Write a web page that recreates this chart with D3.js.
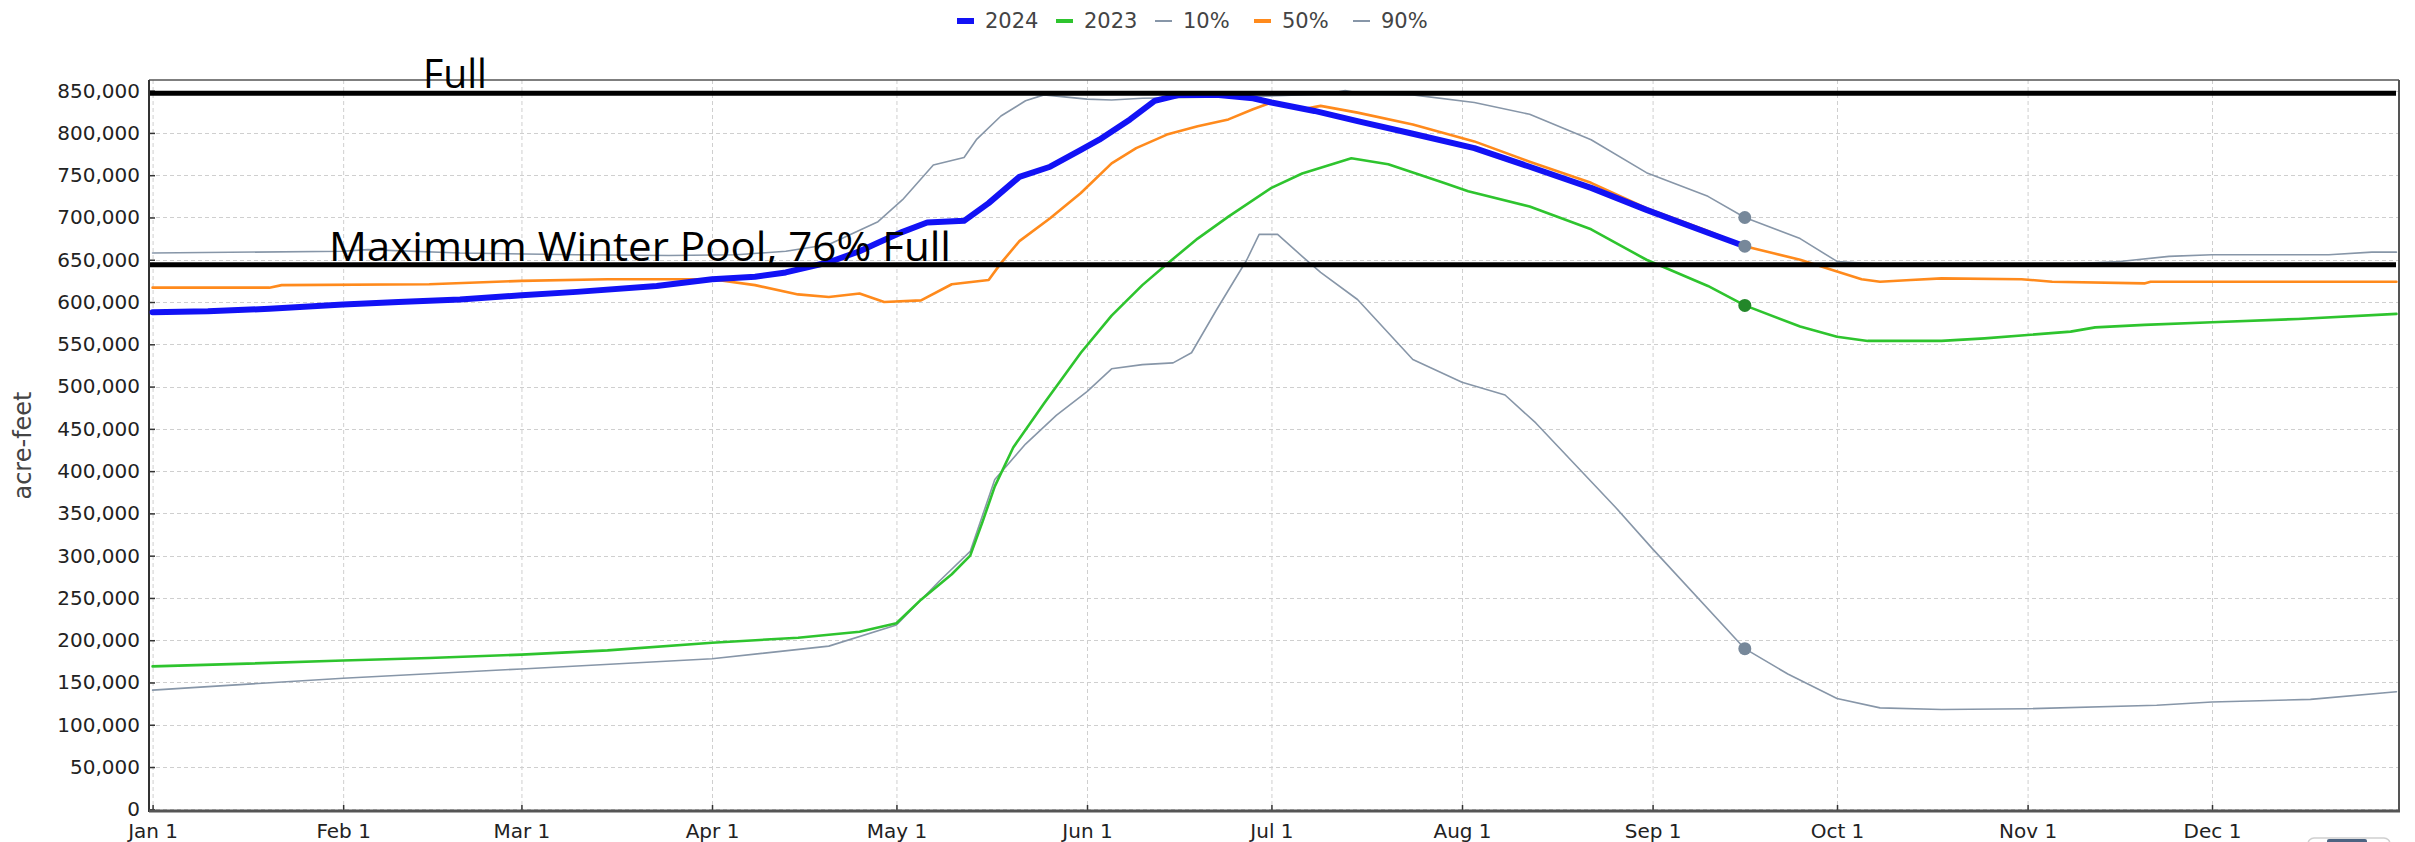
<!DOCTYPE html>
<html>
<head>
<meta charset="utf-8">
<script src="https://cdn.jsdelivr.net/npm/d3@7"></script>
<style>
  body { margin: 0; background: #fff; }
  svg { display: block; font-family: Verdana, "DejaVu Sans", sans-serif; }
</style>
</head>
<body>
<svg id="chart" width="2415" height="842"></svg>
<script>
// Reservoir storage (acre-feet), sampled as [month-day, value]
const storage2024 = [
  ["01-01", 588000], ["01-10", 589000], ["01-20", 592000], ["02-01", 597000],
  ["02-10", 600000], ["02-20", 603000], ["03-01", 608000], ["03-10", 612000],
  ["03-23", 619000], ["04-01", 627000], ["04-08", 630000], ["04-13", 635000],
  ["04-20", 647000], ["04-25", 660000], ["04-28", 670000], ["05-02", 683000],
  ["05-06", 694000], ["05-12", 696000], ["05-16", 717000], ["05-21", 748000],
  ["05-26", 760000], ["05-31", 780000], ["06-03", 792000], ["06-08", 816000],
  ["06-12", 838000], ["06-16", 845000], ["06-22", 845000], ["06-28", 841000],
  ["07-01", 836000], ["07-08", 826000], ["07-15", 814000], ["07-24", 799000],
  ["08-03", 782000], ["08-12", 760000], ["08-22", 735000], ["08-31", 709000],
  ["09-10", 682000], ["09-16", 666000]
];

const storage2023 = [
  ["01-01", 169000], ["01-15", 172000], ["02-01", 176000], ["02-15", 179000],
  ["03-01", 183000], ["03-15", 188000], ["04-01", 197000], ["04-15", 203000],
  ["04-25", 210000], ["05-01", 220000], ["05-05", 248000], ["05-10", 278000],
  ["05-13", 300000], ["05-15", 340000], ["05-17", 382000], ["05-20", 428000],
  ["05-25", 480000], ["05-31", 540000], ["06-05", 584000], ["06-10", 620000],
  ["06-14", 645000], ["06-19", 675000], ["06-24", 701000], ["07-01", 735000],
  ["07-06", 752000], ["07-14", 770000], ["07-20", 763000], ["07-29", 741000],
  ["08-02", 731000], ["08-12", 713000], ["08-22", 686000], ["08-31", 650000],
  ["09-10", 619000], ["09-16", 596000], ["09-25", 571000], ["10-01", 559000],
  ["10-06", 554000], ["10-18", 554000], ["10-25", 557000], ["11-01", 561000],
  ["11-08", 565000], ["11-12", 570000], ["11-20", 573000], ["12-01", 576000],
  ["12-15", 580000], ["12-31", 586000]
];

const pct10 = [
  ["01-01", 141000], ["02-01", 155000], ["03-01", 166000], ["04-01", 178000],
  ["04-20", 193000], ["05-01", 218000], ["05-08", 270000], ["05-13", 305000],
  ["05-17", 390000], ["05-22", 432000], ["05-27", 466000], ["06-01", 494000],
  ["06-05", 521000], ["06-10", 526000], ["06-15", 528000], ["06-18", 540000],
  ["06-22", 590000], ["06-27", 650000], ["06-29", 680000], ["07-02", 680000],
  ["07-06", 654000], ["07-09", 635000], ["07-15", 603000], ["07-24", 532000],
  ["08-01", 505000], ["08-08", 490000], ["08-13", 457000], ["08-26", 357000],
  ["09-01", 308000], ["09-16", 190000], ["09-23", 160000], ["10-01", 131000],
  ["10-08", 120000], ["10-18", 118000], ["11-01", 119000], ["11-22", 123000],
  ["12-01", 127000], ["12-17", 130000], ["12-31", 139000]
];

const pct50 = [
  ["01-01", 617000], ["01-20", 617000], ["01-22", 620000], ["02-15", 621000],
  ["03-01", 625000], ["03-15", 627000], ["04-01", 627000], ["04-08", 620000],
  ["04-15", 609000], ["04-20", 606000], ["04-25", 610000], ["04-29", 600000],
  ["05-05", 602000], ["05-10", 621000], ["05-16", 626000], ["05-18", 646000],
  ["05-21", 672000], ["05-26", 699000], ["05-31", 729000], ["06-05", 764000],
  ["06-09", 782000], ["06-14", 798000], ["06-19", 808000], ["06-24", 816000],
  ["06-28", 828000], ["07-01", 836000], ["07-06", 828000], ["07-09", 832000],
  ["07-15", 824000], ["07-24", 810000], ["08-03", 790000], ["08-12", 766000],
  ["08-22", 741000], ["08-31", 711000], ["09-10", 684000], ["09-16", 666000],
  ["09-25", 650000], ["10-01", 636000], ["10-05", 627000], ["10-08", 624000],
  ["10-13", 626000], ["10-18", 628000], ["10-31", 627000], ["11-05", 624000],
  ["11-20", 622000], ["11-21", 624000], ["12-31", 624000]
];

const pct90 = [
  ["01-01", 658000], ["02-01", 660000], ["02-05", 662000], ["02-20", 658000],
  ["03-10", 656000], ["03-25", 655000], ["04-05", 656000], ["04-13", 660000],
  ["04-20", 668000], ["04-28", 695000], ["05-02", 721000], ["05-07", 762000],
  ["05-12", 771000], ["05-14", 792000], ["05-18", 820000], ["05-22", 838000],
  ["05-25", 845000], ["06-01", 840000], ["06-05", 839000], ["06-10", 841000],
  ["06-28", 843000], ["07-10", 846000], ["07-13", 850000], ["07-16", 846000],
  ["07-24", 845000], ["08-03", 836000], ["08-12", 822000], ["08-22", 792000],
  ["08-31", 753000], ["09-10", 725000], ["09-16", 700000], ["09-25", 675000],
  ["10-01", 648000], ["10-10", 644000], ["11-05", 644000], ["11-16", 648000],
  ["11-24", 654000], ["12-01", 656000], ["12-20", 656000], ["12-27", 659000],
  ["12-31", 659000]
];

// Reference levels
const fullPool = 847000;
const winterPool = 644000;
const referenceLabels = ["Full", "Maximum Winter Pool, 76% Full"];

// Latest observation date, marked on each curve
const currentDay = "09-16";

const legendNames = ["2024", "2023", "10%", "50%", "90%"];
const yTickValues = d3.range(0, 850001, 50000);
const yTitle = "acre-feet";

// ---------------------------------------------------------------
const svg = d3.select("#chart");
const plot = { left: 149, right: 2399, top: 80, bottom: 811 };

const parseDay = md => d3.timeParse("%Y-%m-%d")("2024-" + md);

const x = d3.scaleTime()
  .domain([new Date(2023, 11, 31, 10), new Date(2024, 11, 31, 10)])
  .range([plot.left, plot.right]);

const y = d3.scaleLinear()
  .domain([-2000, 862600])
  .range([plot.bottom, plot.top]);

const monthTicks = d3.timeMonth.range(new Date(2024, 0, 1), new Date(2025, 0, 1));

// grid
const grid = svg.append("g").attr("stroke", "#cfcfcf").attr("stroke-width", 1)
  .attr("stroke-dasharray", "4,3").attr("fill", "none");
grid.selectAll(".gx").data(monthTicks).join("line")
  .attr("x1", d => x(d) + 0.5).attr("x2", d => x(d) + 0.5)
  .attr("y1", plot.top).attr("y2", plot.bottom);
grid.selectAll(".gy").data(yTickValues).join("line")
  .attr("x1", plot.left).attr("x2", plot.right)
  .attr("y1", d => Math.round(y(d)) + 0.5).attr("y2", d => Math.round(y(d)) + 0.5);

// axes
const yAxis = svg.append("g")
  .attr("transform", `translate(${plot.left},0)`)
  .call(d3.axisLeft(y).tickValues(yTickValues).tickSize(-6).tickPadding(9)
    .tickFormat(d3.format(",")));
yAxis.select(".domain").remove();
yAxis.selectAll("line").attr("stroke", "#333").attr("stroke-width", 1.5);
yAxis.selectAll("text").attr("font-size", 20).attr("fill", "#222")
  .attr("font-family", "Verdana, 'DejaVu Sans', sans-serif");

const xAxis = svg.append("g")
  .attr("transform", `translate(0,${plot.bottom})`)
  .call(d3.axisBottom(x).tickValues(monthTicks).tickSize(-6).tickPadding(13)
    .tickFormat(d3.timeFormat("%b %-d")));
xAxis.select(".domain").remove();
xAxis.selectAll("line").attr("stroke", "#333").attr("stroke-width", 1.5);
xAxis.selectAll("text").attr("font-size", 20).attr("fill", "#222")
  .attr("font-family", "Verdana, 'DejaVu Sans', sans-serif");

// frame
const frame = svg.append("g").attr("fill", "none");
frame.append("line").attr("x1", plot.left).attr("x2", plot.right)
  .attr("y1", plot.top).attr("y2", plot.top).attr("stroke", "#555").attr("stroke-width", 1.5);
frame.append("line").attr("x1", plot.right).attr("x2", plot.right)
  .attr("y1", plot.top).attr("y2", plot.bottom).attr("stroke", "#555").attr("stroke-width", 2);
frame.append("line").attr("x1", plot.left).attr("x2", plot.left)
  .attr("y1", plot.top).attr("y2", plot.bottom + 1).attr("stroke", "#333").attr("stroke-width", 2);
frame.append("line").attr("x1", plot.left).attr("x2", plot.right + 1)
  .attr("y1", plot.bottom).attr("y2", plot.bottom).attr("stroke", "#555").attr("stroke-width", 3);

// y title
svg.append("text")
  .attr("transform", `translate(31,${(plot.top + plot.bottom) / 2}) rotate(-90)`)
  .attr("text-anchor", "middle").attr("font-size", 24).attr("fill", "#444")
  .text(yTitle);

// series
const line = d3.line().x(d => x(parseDay(d[0]))).y(d => y(d[1]));
const seriesStyle = [
  { name: "90%", data: pct90, color: "#8796a8", width: 1.6 },
  { name: "10%", data: pct10, color: "#8796a8", width: 1.6 },
  { name: "2023", data: storage2023, color: "#2ec42e", width: 2.6 },
  { name: "50%", data: pct50, color: "#ff8a1c", width: 2.6 },
  { name: "2024", data: storage2024, color: "#1212f5", width: 6 }
];
const lines = svg.append("g").attr("fill", "none")
  .attr("stroke-linejoin", "round").attr("stroke-linecap", "round");
seriesStyle.forEach(s => {
  lines.append("path").datum(s.data)
    .attr("d", line).attr("stroke", s.color).attr("stroke-width", s.width);
});

// reference lines
const refs = [fullPool, winterPool];
svg.append("g").selectAll("line").data(refs).join("line")
  .attr("x1", plot.left + 1).attr("x2", plot.right - 3)
  .attr("y1", d => y(d)).attr("y2", d => y(d))
  .attr("stroke", "#000").attr("stroke-width", 5);

// markers at the latest date
const markerStyle = [
  { data: pct90, color: "#77889a" },
  { data: pct10, color: "#77889a" },
  { data: storage2023, color: "#23872a" },
  { data: storage2024, color: "#77889a" }
];
svg.append("g").selectAll("circle").data(markerStyle).join("circle")
  .attr("cx", x(parseDay(currentDay)))
  .attr("cy", d => y(d.data.find(p => p[0] === currentDay)[1]))
  .attr("r", 6.5).attr("fill", d => d.color);

// reference labels
svg.append("text").attr("x", 423).attr("y", y(fullPool) - 5)
  .attr("font-family", "'Open Sans', sans-serif").attr("font-size", 40)
  .attr("textLength", 64).attr("lengthAdjust", "spacingAndGlyphs")
  .attr("fill", "#000").text(referenceLabels[0]);
svg.append("text").attr("x", 329).attr("y", y(winterPool) - 4)
  .attr("font-family", "'Open Sans', sans-serif").attr("font-size", 40)
  .attr("textLength", 622).attr("lengthAdjust", "spacingAndGlyphs")
  .attr("fill", "#000").text(referenceLabels[1]);

// legend
const legendColor = { "2024": "#1212f5", "2023": "#2ec42e", "10%": "#8796a8", "50%": "#ff8a1c", "90%": "#8796a8" };
const legendThick = { "2024": 6, "2023": 4, "10%": 2, "50%": 4, "90%": 2 };
const legend = svg.append("g");
legendNames.forEach((n, i) => {
  const lx = 957 + i * 99;
  legend.append("rect").attr("x", lx).attr("y", 21 - legendThick[n] / 2)
    .attr("width", 17).attr("height", legendThick[n]).attr("fill", legendColor[n]);
  legend.append("text").attr("x", lx + 28).attr("y", 28)
    .attr("font-size", 21).attr("fill", "#444").text(n);
});

// navigator handle peeking in at the lower right
svg.append("rect").attr("x", 2308).attr("y", 838).attr("width", 82).attr("height", 14)
  .attr("rx", 6).attr("fill", "#fff").attr("stroke", "#cfcfcf").attr("stroke-width", 1.5);
svg.append("rect").attr("x", 2327).attr("y", 839).attr("width", 40).attr("height", 8)
  .attr("rx", 2).attr("fill", "#4d6482");
</script>
</body>
</html>
